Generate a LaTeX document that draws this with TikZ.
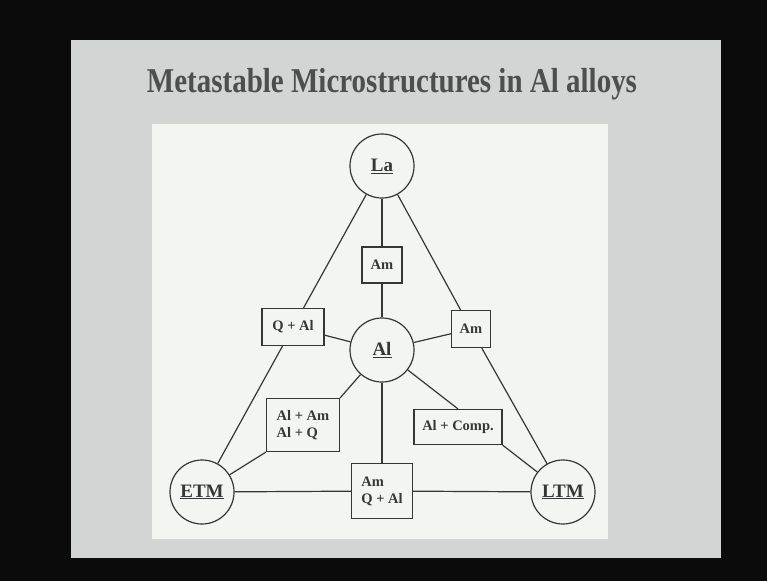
\documentclass[tikz,border=0pt]{standalone}
\usepackage{fontspec}
\setmainfont{Liberation Serif}
\definecolor{bgblack}{HTML}{0B0B0B}
\definecolor{slide}{HTML}{D3D5D4}
\definecolor{panel}{HTML}{F3F5F1}
\definecolor{linec}{HTML}{363636}
\definecolor{titlec}{HTML}{4E4E4E}
\begin{document}
\begin{tikzpicture}[x=1pt,y=-1pt,
  circ/.style={circle,draw=linec,line width=1.2pt,fill=panel,minimum size=64pt,inner sep=0pt,text=linec,font=\fontsize{19}{22}\selectfont\bfseries},
  lbox/.style={rectangle,draw=linec,line width=1.2pt,fill=panel,inner sep=2pt,text=linec,align=left,font=\fontsize{14.5}{17}\selectfont\bfseries},
  conn/.style={draw=linec,line width=1.2pt}]
\useasboundingbox (0,0) rectangle (767,581);
\fill[bgblack] (0,0) rectangle (767,581);
\fill[slide] (71,40) rectangle (721,558);
\fill[panel] (152,124) rectangle (608,539);
\node (title) at (392,84) {\resizebox{490pt}{!}{\scalebox{1}[1.2]{\color{titlec}\fontsize{28}{30}\selectfont\bfseries Metastable Microstructures in Al alloys}}};
% circles
\node[circ] (La) at (382,166) {\underline{La}};
\node[circ] (Al) at (382,350) {\underline{Al}};
\node[circ] (ETM) at (202,492) {\underline{ETM}};
\node[circ] (LTM) at (563,492) {\underline{LTM}};
% boxes
\node[lbox,minimum width=40pt,minimum height=36pt] (AmT) at (382,265) {Am};
\node[lbox,minimum width=62pt,minimum height=37pt] (QAl) at (293,327) {Q + Al};
\node[lbox,minimum width=39pt,minimum height=37pt] (AmR) at (471,329) {Am};
\node[lbox,minimum width=73pt,minimum height=53pt] (AlAm) at (303,425) {Al + Am\\Al + Q};
\node[lbox,minimum width=88pt,minimum height=35pt] (AlComp) at (458,427) {Al + Comp.};
\node[lbox,minimum width=61pt,minimum height=55pt] (AmQAl) at (382,491) {Am\\Q + Al};
% connectors
\draw[conn] (La) -- (AmT);
\draw[conn] (AmT) -- (Al);
\draw[conn] (La) -- (QAl);
\draw[conn] (QAl) -- (ETM);
\draw[conn] (La) -- (AmR);
\draw[conn] (AmR) -- (LTM);
\draw[conn] (Al) -- (QAl);
\draw[conn] (Al) -- (AmR);
\draw[conn] (Al) -- (AlAm.north east);
\draw[conn] (AlAm.south west) -- (ETM);
\draw[conn] (Al) -- (AlComp.north);
\draw[conn] (AlComp.south east) -- (LTM);
\draw[conn] (Al) -- (AmQAl);
\draw[conn] (ETM) -- (AmQAl);
\draw[conn] (AmQAl) -- (LTM);
\end{tikzpicture}
\end{document}
